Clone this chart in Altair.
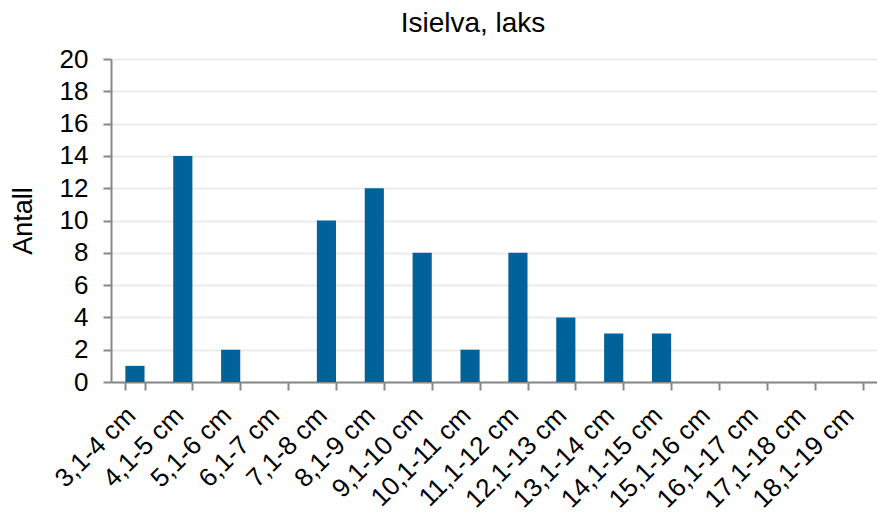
import altair as alt
import pandas as pd

# Length classes and fish counts
klasser = ["3,1-4 cm", "4,1-5 cm", "5,1-6 cm", "6,1-7 cm", "7,1-8 cm", "8,1-9 cm",
           "9,1-10 cm", "10,1-11 cm", "11,1-12 cm", "12,1-13 cm", "13,1-14 cm",
           "14,1-15 cm", "15,1-16 cm", "16,1-17 cm", "17,1-18 cm", "18,1-19 cm"]
antall = [1, 14, 2, 0, 10, 12, 8, 2, 8, 4, 3, 3, 0, 0, 0, 0]
y_ticks = list(range(0, 21, 2))

df = pd.DataFrame({"klasse": klasser, "antall": antall})

FONT = "Liberation Sans"

chart = alt.Chart(df).mark_bar(color="#00629B").encode(
    x=alt.X("klasse:N", sort=klasser, title=None,
            scale=alt.Scale(paddingInner=0.6, paddingOuter=0.3),
            axis=alt.Axis(labelAngle=-45, labelAlign="right", labelBaseline="middle",
                          labelFontSize=26, labelColor="#000", labelFont=FONT,
                          tickBand="extent", tickColor="#888", tickSize=8, tickWidth=2,
                          domainColor="#888", domainWidth=2, labelPadding=21, labelOffset=-4,
                          labelOverlap=False, grid=False)),
    y=alt.Y("antall:Q", title="Antall",
            scale=alt.Scale(domain=[0, 20], nice=False),
            axis=alt.Axis(values=y_ticks, labelFontSize=26, labelColor="#000", labelFont=FONT,
                          titleFontSize=27, titleFont=FONT, titleFontWeight="normal",
                          titleColor="#000", titlePadding=22,
                          tickColor="#888", tickSize=8, tickWidth=2,
                          domainColor="#888", domainWidth=2, labelPadding=15,
                          gridColor="#ebebeb", gridWidth=2)),
).properties(
    width=766,
    height=323,
    title=alt.TitleParams("Isielva, laks", font=FONT, fontSize=28, fontWeight="normal",
                          color="#000", dx=-21, offset=8),
    autosize=alt.AutoSizeParams(type="none"),
    padding={"left": 111, "top": 59, "right": 0, "bottom": 135},
).configure_view(stroke=None)

chart.save("out.html", embed_options={"renderer": "svg", "actions": False})
